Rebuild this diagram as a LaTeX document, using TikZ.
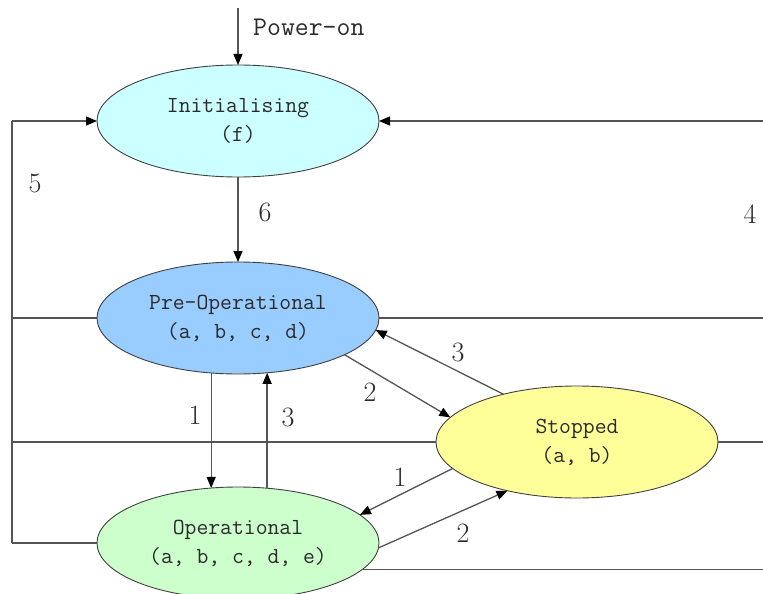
\documentclass[tikz,border=0pt]{standalone}
\usetikzlibrary{arrows.meta,shapes.geometric}
\definecolor{initc}{HTML}{CCFFFF}
\definecolor{preopc}{HTML}{99CCFF}
\definecolor{stopc}{HTML}{FFFF99}
\definecolor{opc}{HTML}{CCFFCC}
\definecolor{linec}{HTML}{555555}
\definecolor{txtc}{HTML}{2A2A2A}
\begin{document}
\begin{tikzpicture}[x=1pt,y=-1pt,
 state/.style={ellipse, draw=black!75, line width=0.9pt, minimum width=282pt, minimum height=112pt, inner sep=0pt, outer sep=0pt, align=center, text=txtc, font=\ttfamily\fontsize{23}{29}\selectfont},
 conn/.style={draw=linec, line width=1.3pt},
 arr/.style={conn, -{Triangle[length=11pt,width=9pt,color=black]}},
 num/.style={text=txtc, font=\fontsize{28}{28}\selectfont, inner sep=0pt},
 lbl/.style={text=txtc, font=\ttfamily\fontsize{27}{27}\selectfont, inner sep=0pt, anchor=west}
]
\useasboundingbox (0,0) rectangle (763,594);

% states
\node[state, fill=initc]  (init)  at (238,121) {Initialising\\(f)};
\node[state, fill=preopc] (preop) at (238,318) {Pre-Operational\\(a, b, c, d)};
\node[state, fill=stopc]  (stop)  at (577,442) {Stopped\\(a, b)};
\node[state, fill=opc]    (op)    at (238,543) {Operational\\(a, b, c, d, e)};

% free ends
\coordinate (pwr) at (238,8);
\coordinate (l1) at (12,121);
\coordinate (l2) at (12,318);
\coordinate (l3) at (12,442);
\coordinate (l4) at (12,543);
\coordinate (r1) at (763,121);
\coordinate (r2) at (763,318);
\coordinate (r3) at (763,442);
\coordinate (r4) at (763,568);

% power-on
\draw[arr] (pwr) -- (init.north);
\node[lbl] (pwrlbl) at (253,27) {Power-on};

% 6
\draw[arr] (init.south) -- (preop.north);

% 5 loop (left)
\draw[conn] (l4) -- (l1);
\draw[arr] (l1) -- (init.west);
\draw[conn] (l2) -- (preop.west);
\draw[conn] (l3) -- (stop.west);
\draw[conn] (l4) -- (op.west);

% 4 loop (right)
\draw[arr] (r1) -- (init.east);
\draw[conn] (r2) -- (preop.east);
\draw[conn] (r3) -- (stop.east);
\draw[conn] (op.348.8 -| r4) -- (op.348.8);

% transitions
\draw[arr] (preop.244.7) -- (preop.244.7 |- op.115);
\draw[arr] (op.62.6) -- (op.62.6 |- preop.297.8);
\draw[arr] (preop.341.3) -- (stop.169.7);
\draw[arr] (stop.147) -- (preop.355.9);
\draw[arr] (stop.192.4) -- (op.13.8);
\draw[arr] (op.358.4) -- (stop.215);

% numbers
\node[num] (n5) at (35,183) {5};
\node[num] (n6) at (265,212) {6};
\node[num] (n4) at (750,214) {4};
\node[num] (n1a) at (195,415) {1};
\node[num] (n3a) at (288,417) {3};
\node[num] (n2a) at (370,392) {2};
\node[num] (n3b) at (458,352) {3};
\node[num] (n1b) at (400,477) {1};
\node[num] (n2b) at (463,533) {2};
\end{tikzpicture}
\end{document}
